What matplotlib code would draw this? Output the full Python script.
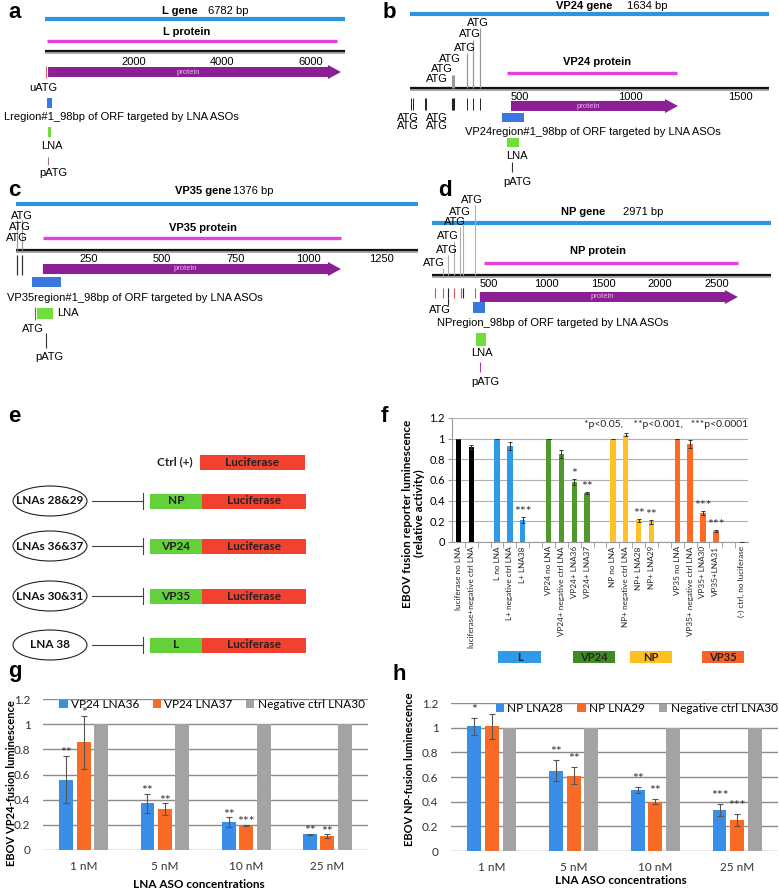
import numpy as np
import matplotlib.pyplot as plt
from matplotlib.patches import Ellipse, Rectangle
import matplotlib.transforms as mtransforms

plt.rcParams['font.family'] = ['Lato', 'DejaVu Sans']

W, H = 779, 891
fig = plt.figure(figsize=(W / 100, H / 100), dpi=100)

MAP_FONT = ['Liberation Sans', 'DejaVu Sans']
GENE_BLUE = '#2b95e2'
MAGENTA = '#e23fdc'
PURPLE = '#8c1f94'
REGION_BLUE = '#3a78e0'
LNA_GREEN = '#6ee03a'

# ---------------- gene maps (a-d), positions in bp ----------------
L_len, L_prot, L_arrow, L_ticks = 6782, (52, 6590), (75, 6680), [2000, 4000, 6000]
L_uatg, L_region, L_lna, L_patg = 30, (60, 158), (85, 135), 74

VP24_len, VP24_prot, VP24_arrow, VP24_ticks = 1634, (441, 1214), (459, 1218), [500, 1000, 1500]
VP24_atg_up = [195, 259, 286, 318]
VP24_atg_down = [5, 12, 66, 72, 195, 259, 286, 318]
VP24_region, VP24_lna, VP24_patg = (418, 516), (441, 495), 463

VP35_len, VP35_prot, VP35_arrow, VP35_ticks = 1376, (92, 1111), (92, 1111), [250, 500, 750, 1000, 1250]
VP35_atg = [2, 19]
VP35_region, VP35_lna, VP35_lna_tick, VP35_patg = (55, 154), (72, 126), 65, 102

NP_len, NP_prot, NP_arrow, NP_ticks = 2971, (455, 2683), (420, 2683), [500, 1000, 1500, 2000, 2500]
NP_atg_up = [97, 140, 192, 245, 272, 376]
NP_atg_red = [26, 97, 192, 254, 377]
NP_atg_black = [140, 272]
NP_region, NP_lna, NP_patg = (360, 465), (386, 474), 421


def px_axes(left, top, width, height):
    return fig.add_axes([left / W, 1 - (top + height) / H, width / W, height / H])


def map_axes(left, top, width, height, x0, scale):
    # x in bp, y in pixels from the top of the figure
    ax = px_axes(left, top, width, height)
    ax.set_xlim((left - x0) / scale, (left + width - x0) / scale)
    ax.set_ylim(top + height, top)
    ax.axis('off')
    return ax


def mtext(ax, x, y, s, **kw):
    kw.setdefault('fontsize', 8)
    kw.setdefault('ha', 'center')
    kw.setdefault('va', 'center')
    ax.text(x, y, s, family=MAP_FONT, **kw)


def gene_lines(ax, length, prot, y_gene, y_prot, y_ruler, ticks, y_ticks):
    ax.plot([0, length], [y_gene, y_gene], color=GENE_BLUE, lw=3, solid_capstyle='butt')
    ax.plot(prot, [y_prot, y_prot], color=MAGENTA, lw=2.4, solid_capstyle='butt')
    ax.plot([0, length], [y_ruler + 1.6, y_ruler + 1.6], color='#9a9a9a', lw=1.2, solid_capstyle='butt')
    ax.plot([0, length], [y_ruler, y_ruler], color='#111111', lw=1.6, solid_capstyle='butt')
    for t in ticks:
        mtext(ax, t, y_ticks, str(t))


def protein_arrow(ax, start, end, y, scale):
    head = 13 / scale
    xs = [start, end - head, end - head, end, end - head, end - head, start]
    ys = [y - 5, y - 5, y - 7, y, y + 7, y + 5, y + 5]
    ax.fill(xs, ys, color=PURPLE, lw=0)
    mtext(ax, (start + end - head) / 2, y, 'protein', fontsize=5.5, color='#e9b6ec')


def box(ax, span, y0, y1, color):
    ax.add_patch(Rectangle((span[0], y0), span[1] - span[0], y1 - y0, color=color, lw=0))


# panel a
s_a = 0.04435
ax_a = map_axes(0, 0, 390, 180, 44.7, s_a)
gene_lines(ax_a, L_len, L_prot, 19, 41, 51, L_ticks, 62)
mtext(ax_a, 3051, 11, 'L gene', fontweight='bold')
mtext(ax_a, 3686, 11, '6782 bp', ha='left')
mtext(ax_a, 3209, 32, 'L protein', fontweight='bold')
protein_arrow(ax_a, L_arrow[0], L_arrow[1], 72, s_a)
ax_a.vlines(L_uatg, 66, 78, color='#e06060', lw=0.8)
mtext(ax_a, -38, 88, 'uATG')
box(ax_a, L_region, 98, 108, REGION_BLUE)
mtext(ax_a, 1720, 117, 'Lregion#1_98bp of ORF targeted by LNA ASOs')
box(ax_a, L_lna, 127, 137, LNA_GREEN)
mtext(ax_a, 165, 146, 'LNA')
ax_a.vlines(L_patg, 157, 165, color='#a070a0', lw=0.8)
mtext(ax_a, 187, 173, 'pATG')

# panel b
s_b = 0.22
ax_b = map_axes(390, 0, 389, 180, 410, s_b)
gene_lines(ax_b, VP24_len, VP24_prot, 14, 73, 88, VP24_ticks, 97)
mtext(ax_b, 791, 6, 'VP24 gene', fontweight='bold')
mtext(ax_b, 986, 6, '1634 bp', ha='left')
mtext(ax_b, 850, 62, 'VP24 protein', fontweight='bold')
protein_arrow(ax_b, VP24_arrow[0], VP24_arrow[1], 106, s_b)
for bp_, ytop in zip(VP24_atg_up, [75, 53, 40, 28]):
    ax_b.vlines(bp_, ytop, 88, color='#9a9a9a', lw=2.2 if bp_ == 195 else 0.9)
for lx, ly in zip([123, 145, 182, 250, 273, 309], [79, 69, 59, 48, 34, 23]):
    mtext(ax_b, lx, ly, 'ATG')
for bp_ in VP24_atg_down:
    ax_b.vlines(bp_, 98, 110, color='#222222', lw=2.2 if bp_ == 195 else 0.7)
mtext(ax_b, -9, 118, 'ATG')
mtext(ax_b, 123, 118, 'ATG')
mtext(ax_b, -9, 126, 'ATG')
mtext(ax_b, 123, 126, 'ATG')
box(ax_b, VP24_region, 113, 122, REGION_BLUE)
mtext(ax_b, 830, 132, 'VP24region#1_98bp of ORF targeted by LNA ASOs')
box(ax_b, VP24_lna, 138, 147, LNA_GREEN)
mtext(ax_b, 486, 156, 'LNA')
ax_b.vlines(VP24_patg, 162, 172, color='#333333', lw=0.8)
mtext(ax_b, 486, 182, 'pATG')

# panel c
s_c = 0.2925
ax_c = map_axes(0, 180, 420, 180, 16, s_c)
gene_lines(ax_c, VP35_len, VP35_prot, 204, 238, 250, VP35_ticks, 259)
mtext(ax_c, 639, 191, 'VP35 gene', fontweight='bold')
mtext(ax_c, 742, 191, '1376 bp', ha='left')
mtext(ax_c, 639, 228, 'VP35 protein', fontweight='bold')
protein_arrow(ax_c, VP35_arrow[0], VP35_arrow[1], 269, s_c)
ax_c.vlines(VP35_atg, 220, 250, color='#9a9a9a', lw=0.9)
ax_c.vlines(VP35_atg, 255, 275, color='#333333', lw=0.9)
for lx, ly in zip([20, 14, 3], [216, 227, 238]):
    mtext(ax_c, lx, ly, 'ATG')
box(ax_c, VP35_region, 277, 287, REGION_BLUE)
mtext(ax_c, 407, 298, 'VP35region#1_98bp of ORF targeted by LNA ASOs')
ax_c.vlines(VP35_lna_tick, 307, 320, color='#c04040', lw=0.8)
box(ax_c, VP35_lna, 308, 319, LNA_GREEN)
mtext(ax_c, 140, 313, 'LNA', ha='left')
mtext(ax_c, 58, 329, 'ATG')
ax_c.vlines(VP35_patg, 333, 348, color='#333333', lw=0.8)
mtext(ax_c, 113, 357, 'pATG')

# panel d
s_d = 0.114
ax_d = map_axes(390, 180, 389, 210, 432, s_d)
gene_lines(ax_d, NP_len, NP_prot, 223, 263, 275, NP_ticks, 284)
mtext(ax_d, 1325, 212, 'NP gene', fontweight='bold')
mtext(ax_d, 1675, 212, '2971 bp', ha='left')
mtext(ax_d, 1456, 251, 'NP protein', fontweight='bold')
protein_arrow(ax_d, NP_arrow[0], NP_arrow[1], 297, s_d)
for bp_, ytop in zip(NP_atg_up, [268, 255, 241, 227, 217, 205]):
    ax_d.vlines(bp_, ytop, 275, color='#b0b0b0', lw=0.8)
for lx, ly in zip([18, 132, 140, 202, 246, 351], [263, 250, 236, 222, 212, 200]):
    mtext(ax_d, lx, ly, 'ATG')
ax_d.vlines(NP_atg_red, 288, 298, color='#e05050', lw=0.8)
ax_d.vlines(NP_atg_black, 288, 298, color='#222222', lw=0.8)
ax_d.vlines(NP_atg_black[0], 298, 305, color='#222222', lw=0.8)
mtext(ax_d, 70, 310, 'ATG')
box(ax_d, NP_region, 302, 313, REGION_BLUE)
mtext(ax_d, 1061, 323, 'NPregion_98bp of ORF targeted by LNA ASOs')
box(ax_d, NP_lna, 333, 346, LNA_GREEN)
mtext(ax_d, 439, 353, 'LNA')
ax_d.vlines(NP_patg, 362, 372, color='#a040a0', lw=0.8)
mtext(ax_d, 465, 382, 'pATG')

# ---------------- panel e ----------------
e_targets = ['NP', 'VP24', 'VP35', 'L']
e_lnas = ['LNAs 28&29', 'LNAs 36&37', 'LNAs 30&31', 'LNA 38']
e_rows = [501, 546, 596, 645]
ax_e = px_axes(0, 380, 390, 300)
ax_e.set_xlim(0, 390)
ax_e.set_ylim(680, 380)
ax_e.axis('off')
RED = '#f2412e'
GREEN = '#62d13a'
ax_e.add_patch(Rectangle((200, 455), 105, 15, color=RED, lw=0))
ax_e.text(252, 462.5, 'Luciferase', ha='center', va='center', fontsize=8.5, fontweight='bold', color='#222')
ax_e.text(193, 462, 'Ctrl (+)', ha='right', va='center', fontsize=8.5, fontweight='bold', color='#222')
for tgt, lna, y in zip(e_targets, e_lnas, e_rows):
    ax_e.add_patch(Ellipse((50, y), 74, 30, fill=False, lw=0.8, ec='#222'))
    ax_e.text(50, y, lna, ha='center', va='center', fontsize=8.5, fontweight='bold', color='#111')
    ax_e.plot([92, 143], [y, y], color='#444', lw=0.8)
    ax_e.plot([143, 143], [y - 8, y + 8], color='#444', lw=0.8)
    ax_e.add_patch(Rectangle((150, y - 7.5), 52, 15, color=GREEN, lw=0))
    ax_e.add_patch(Rectangle((202, y - 7.5), 104, 15, color=RED, lw=0))
    ax_e.text(176, y, tgt, ha='center', va='center', fontsize=8.5, fontweight='bold', color='#222')
    ax_e.text(254, y, 'Luciferase', ha='center', va='center', fontsize=8.5, fontweight='bold', color='#222')

# ---------------- panel f ----------------
f_labels = ['luciferase no LNA', 'luciferase+negative ctrl LNA', '',
            'L no LNA', 'L+ negative ctrl LNA', 'L+ LNA38', '',
            'VP24 no LNA', 'VP24+ negative ctrl LNA', 'VP24+ LNA36', 'VP24+ LNA37', '',
            'NP no LNA', 'NP+ negative ctrl LNA', 'NP+ LNA28', 'NP+ LNA29', '',
            'VP35 no LNA', 'VP35+ negative ctrl LNA', 'VP35+ LNA30', 'VP35+LNA31', '',
            '(-) ctrl, no luciferase']
f_values = [1.0, 0.92, np.nan, 1.0, 0.93, 0.21, np.nan, 1.0, 0.85, 0.58, 0.47, np.nan,
            1.0, 1.04, 0.21, 0.19, np.nan, 1.0, 0.95, 0.28, 0.11, np.nan, 0.0]
f_err = [0, 0.02, 0, 0, 0.04, 0.03, 0, 0, 0.04, 0.03, 0.01, 0,
         0, 0.015, 0.015, 0.02, 0, 0, 0.04, 0.02, 0.01, 0, 0]
f_sig = ['', '', '', '', '', '***', '', '', '', '*', '**', '',
         '', '', '**', '**', '', '', '', '***', '***', '', '']
f_group = ['ctrl', 'ctrl', '', 'L', 'L', 'L', '', 'VP24', 'VP24', 'VP24', 'VP24', '',
           'NP', 'NP', 'NP', 'NP', '', 'VP35', 'VP35', 'VP35', 'VP35', '', 'ctrl']
f_colors = {'ctrl': '#000000', 'L': '#2f9be8', 'VP24': '#4f9a2a', 'NP': '#ffc125', 'VP35': '#ff6a24', '': 'none'}
f_box_names = ['L', 'VP24', 'NP', 'VP35']
f_box_colors = ['#2f9be8', '#3f8c24', '#ffbf22', '#f5622a']
f_box_left = [3.1, 8.9, 13.3, 18.9]

ax_f = px_axes(452, 418, 296, 124)
xf = np.arange(len(f_labels))
vals = np.array(f_values)
ok = ~np.isnan(vals)
ax_f.bar(xf[ok], vals[ok], width=0.42, color=[f_colors[g] for g, k in zip(f_group, ok) if k],
         yerr=np.array(f_err)[ok], error_kw=dict(ecolor='#333333', elinewidth=0.7, capsize=1.5, capthick=0.7),
         zorder=3)
ax_f.set_xlim(-0.5, len(f_labels) - 0.5)
ax_f.set_ylim(0, 1.2)
ax_f.set_yticks(np.arange(0, 1.21, 0.2))
ax_f.set_yticklabels(['0', '0.2', '0.4', '0.6', '0.8', '1', '1.2'], fontsize=8)
ax_f.yaxis.grid(True, color='#b0b0b0', lw=0.8)
ax_f.set_axisbelow(True)
for sp in ['top', 'right']:
    ax_f.spines[sp].set_visible(False)
for sp in ['left', 'bottom']:
    ax_f.spines[sp].set_color('#999999')
ax_f.set_xticks(xf)
ax_f.set_xticklabels(f_labels, rotation=90, fontsize=5.9, color='#222')
ax_f.set_xticks(xf[:-1] + 0.5, minor=True)
ax_f.tick_params(axis='x', which='major', length=0, pad=3)
ax_f.tick_params(axis='x', which='minor', length=4, color='#999999')
ax_f.tick_params(axis='y', length=3, color='#999999', pad=2)
for xi, v, e, s in zip(xf, vals, f_err, f_sig):
    if s:
        ax_f.text(xi, v + e - 0.01, s, ha='center', va='bottom', fontsize=10, color='#333')
ax_f.text(22.5, 1.135, '*p<0.05,    **p<0.001,   ***p<0.0001',
          ha='right', va='center', fontsize=7.5, color='#222')
ax_f.set_ylabel('EBOV fusion reporter luminescence\n(relative activity)', fontsize=8.5, fontweight='bold')
ax_f.yaxis.set_label_coords(-0.09, 0.23)
trans_f = mtransforms.blended_transform_factory(ax_f.transData, ax_f.transAxes)
for name, col, left in zip(f_box_names, f_box_colors, f_box_left):
    ax_f.add_patch(Rectangle((left, -0.975), 3.3, 0.095, transform=trans_f, color=col, clip_on=False, lw=0))
    ax_f.text(left + 1.65, -0.928, name, transform=trans_f, ha='center', va='center',
              fontsize=8, fontweight='bold', color='#222')

# ---------------- panels g and h ----------------
conc = ['1 nM', '5 nM', '10 nM', '25 nM']
g_lna36 = [0.56, 0.37, 0.22, 0.125]
g_lna36_err = [0.19, 0.075, 0.04, 0.003]
g_lna36_sig = ['**', '**', '**', '**']
g_lna37 = [0.855, 0.325, 0.195, 0.11]
g_lna37_err = [0.21, 0.045, 0.005, 0.015]
g_lna37_sig = ['*', '**', '***', '**']
g_neg = [1.0, 1.0, 1.0, 1.0]

h_lna28 = [1.01, 0.65, 0.495, 0.33]
h_lna28_err = [0.07, 0.085, 0.025, 0.05]
h_lna28_sig = ['*', '**', '**', '***']
h_lna29 = [1.01, 0.61, 0.40, 0.25]
h_lna29_err = [0.10, 0.07, 0.02, 0.05]
h_lna29_sig = ['', '**', '**', '***']
h_neg = [1.0, 1.0, 1.0, 1.0]

BLUE = '#3a8ee8'
ORANGE = '#f96a24'
GRAY = '#a3a3a3'


def conc_panel(box_px, s1, e1, sig1, s2, e2, sig2, neg, names, ylabel, lab_xy, xlab_xy,
               star_off, leg_loc, leg_anchor, colspace):
    ax = px_axes(*box_px)
    x = np.arange(len(conc))
    ek = dict(ecolor='#555555', elinewidth=0.8, capsize=2, capthick=0.8)
    ax.bar(x - 0.215, s1, 0.17, color=BLUE, yerr=e1, error_kw=ek, label=names[0], zorder=3)
    ax.bar(x, s2, 0.17, color=ORANGE, yerr=e2, error_kw=ek, label=names[1], zorder=3)
    ax.bar(x + 0.215, neg, 0.17, color=GRAY, label=names[2], zorder=3)
    for xi, v, e, s in zip(x - 0.215, s1, e1, sig1):
        ax.text(xi, v + e + star_off, s, ha='center', va='center', fontsize=10, color='#333')
    for xi, v, e, s in zip(x, s2, e2, sig2):
        ax.text(xi, v + e + star_off, s, ha='center', va='center', fontsize=10, color='#333')
    ax.set_xlim(-0.5, 3.5)
    ax.set_ylim(0, 1.2)
    ax.set_yticks(np.arange(0, 1.21, 0.2))
    ax.set_yticklabels(['0', '0.2', '0.4', '0.6', '0.8', '1', '1.2'], fontsize=8.5, color='#333')
    ax.set_xticks(x)
    ax.set_xticklabels(conc, fontsize=8.5, color='#333')
    ax.tick_params(length=0)
    ax.tick_params(axis='x', pad=8)
    ax.tick_params(axis='y', pad=9)
    ax.yaxis.grid(True, color='#8c8c8c', lw=1.0)
    ax.set_axisbelow(True)
    for sp in ax.spines.values():
        sp.set_visible(False)
    ax.set_ylabel(ylabel, fontsize=8, fontweight='bold')
    ax.yaxis.set_label_coords(*lab_xy)
    ax.set_xlabel('LNA ASO concentrations', fontsize=8.5, fontweight='bold')
    ax.xaxis.set_label_coords(*xlab_xy)
    ax.legend(loc=leg_loc, bbox_to_anchor=leg_anchor, ncol=3, frameon=False, fontsize=8.5,
              handlelength=0.7, handleheight=0.7, handletextpad=0.3, columnspacing=colspace,
              borderaxespad=0.0, borderpad=0.0)
    return ax


conc_panel((43, 699, 325, 151), g_lna36, g_lna36_err, g_lna36_sig, g_lna37, g_lna37_err, g_lna37_sig,
           g_neg, ['VP24 LNA36', 'VP24 LNA37', 'Negative ctrl LNA30'],
           'EBOV VP24-fusion luminescence', (-0.08, 0.44), (0.48, -0.19), 0.02,
           'upper center', (0.52, 1.0), 1.1)
conc_panel((451, 703, 327, 148), h_lna28, h_lna28_err, h_lna28_sig, h_lna29, h_lna29_err, h_lna29_sig,
           h_neg, ['NP LNA28', 'NP LNA29', 'Negative ctrl LNA30'],
           'EBOV NP-fusion luminescence', (-0.11, 0.55), (0.52, -0.16), 0.065,
           'upper right', (1.0, 1.0), 1.2)

# panel letters
for letter, xp, yp in [('a', 8, 12), ('b', 383, 12), ('c', 8, 190), ('d', 438, 190),
                       ('e', 8, 417), ('f', 381, 417), ('g', 8, 672), ('h', 392, 675)]:
    fig.text(xp / W, 1 - yp / H, letter, fontsize=16, fontweight='bold', family=MAP_FONT,
             ha='left', va='center')

fig.savefig('out.png', dpi=100)
